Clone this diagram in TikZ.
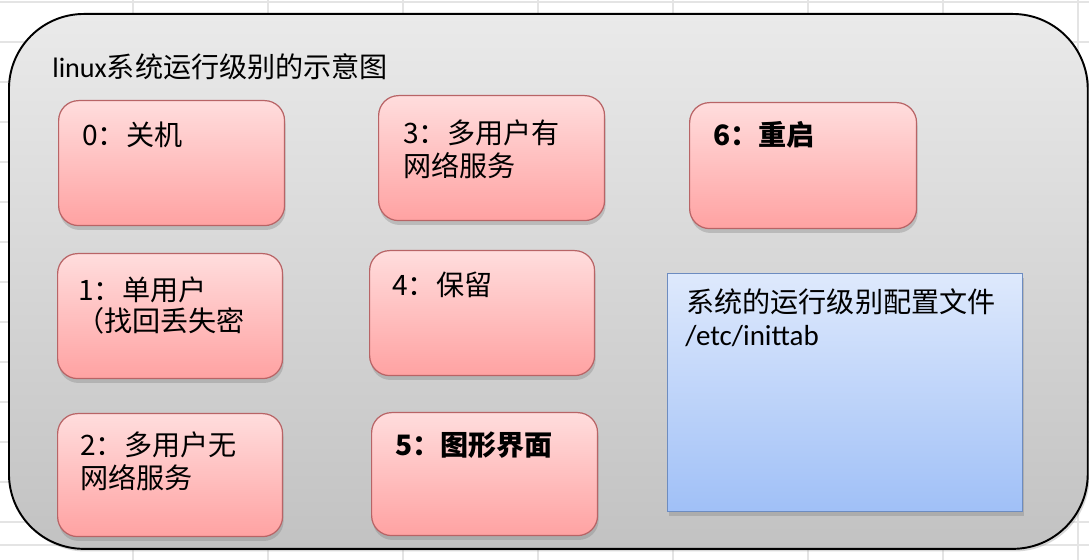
\documentclass[tikz,border=0pt]{standalone}
\usepackage{fontspec}
\setmainfont{Carlito}
\newfontfamily\cjk{Noto Sans CJK SC}
\usetikzlibrary{shadows}
\definecolor{pinkT}{HTML}{FFDDDD}
\definecolor{pinkB}{HTML}{FFA2A2}
\definecolor{pinkD}{HTML}{B86466}
\definecolor{blueT}{HTML}{DEE9FC}
\definecolor{blueB}{HTML}{A0C0F7}
\definecolor{blueD}{HTML}{6D8CC0}
\definecolor{outerT}{HTML}{EAEAEA}
\definecolor{outerB}{HTML}{C2C2C2}
\definecolor{gridc}{HTML}{E4E4E4}
\begin{document}
\begin{tikzpicture}[x=0.02cm,y=-0.02cm,
  levelbox/.style={draw=pinkD, line width=0.7pt, rounded corners=0.4cm,
    top color=pinkT, bottom color=pinkB, anchor=north west,
    drop shadow={shadow xshift=0.6pt, shadow yshift=-2.5pt, opacity=0.35}},
  filebox/.style={draw=blueD, line width=0.7pt, top color=blueT, bottom color=blueB,
    anchor=north west, minimum width=7.1cm, minimum height=4.76cm,
    drop shadow={shadow xshift=0.6pt, shadow yshift=-2.5pt, opacity=0.35}},
  outerbox/.style={draw=black, line width=1.1pt, rounded corners=1.5cm,
    top color=outerT, bottom color=outerB, anchor=north west,
    minimum width=21.58cm, minimum height=10.7cm,
    drop shadow={shadow xshift=1pt, shadow yshift=-1.5pt, opacity=0.3}},
  txt/.style={anchor=base west, inner sep=0pt, font=\cjk\fontsize{16pt}{19pt}\selectfont},
  btxt/.style={txt, font=\cjk\bfseries\fontsize{16pt}{19pt}\selectfont},
  lat/.style={anchor=base west, inner sep=0pt, font=\fontsize{16.5pt}{19pt}\selectfont},
  gridline/.style={draw=gridc, line width=0.6pt}]
\useasboundingbox (0,0) rectangle (1089,560);
\fill[white] (0,0) rectangle (1089,560);
% spreadsheet grid in the background
\foreach \gx in {133,268,403,538,673,808,943,1078}
  \draw[gridline] (\gx,0) -- (\gx,560);
\foreach \gy in {2,42,82,122,162,202,242,282,322,362,402,442,482,522,545}
  \draw[gridline] (0,\gy) -- (1089,\gy);
% outer frame
\node[outerbox] (frame) at (8,13) {};
\node[lat, font=\fontsize{16pt}{19pt}\selectfont] (title) at (52,78) {linux{\cjk 系统运行级别的示意图}};
% level boxes
\node[levelbox, minimum width=4.52cm, minimum height=2.5cm] (b0) at (58,100) {};
\node[levelbox, minimum width=4.52cm, minimum height=2.5cm] (b3) at (378,95) {};
\node[levelbox, minimum width=4.54cm, minimum height=2.52cm] (b6) at (689,102) {};
\node[levelbox, minimum width=4.5cm, minimum height=2.5cm] (b1) at (57,253) {};
\node[levelbox, minimum width=4.5cm, minimum height=2.5cm] (b4) at (369,250) {};
\node[levelbox, minimum width=4.5cm, minimum height=2.46cm] (b2) at (57,413) {};
\node[levelbox, minimum width=4.52cm, minimum height=2.46cm] (b5) at (371,412) {};
\node[filebox] (file) at (667,273) {};
% texts
\node[txt] (t0) at (82,146) {0：关机};
\node[txt] (t3a) at (403,144) {3：多用户有};
\node[txt] (t3b) at (403,177) {网络服务};
\node[btxt] (t6) at (713,146) {6：重启};
\node[txt] (t1a) at (78,301) {1：单用户};
\node[txt] (t1b) at (76,332) {（找回丢失密};
\node[txt] (t4) at (392,296) {4：保留};
\node[txt] (t2a) at (80,456) {2：多用户无};
\node[txt] (t2b) at (80,489) {网络服务};
\node[btxt] (t5) at (395,456) {5：图形界面};
\node[txt] (tfa) at (686,313) {系统的运行级别配置文件};
\node[lat] (tfb) at (685,346) {/etc/inittab};
\end{tikzpicture}
\end{document}
